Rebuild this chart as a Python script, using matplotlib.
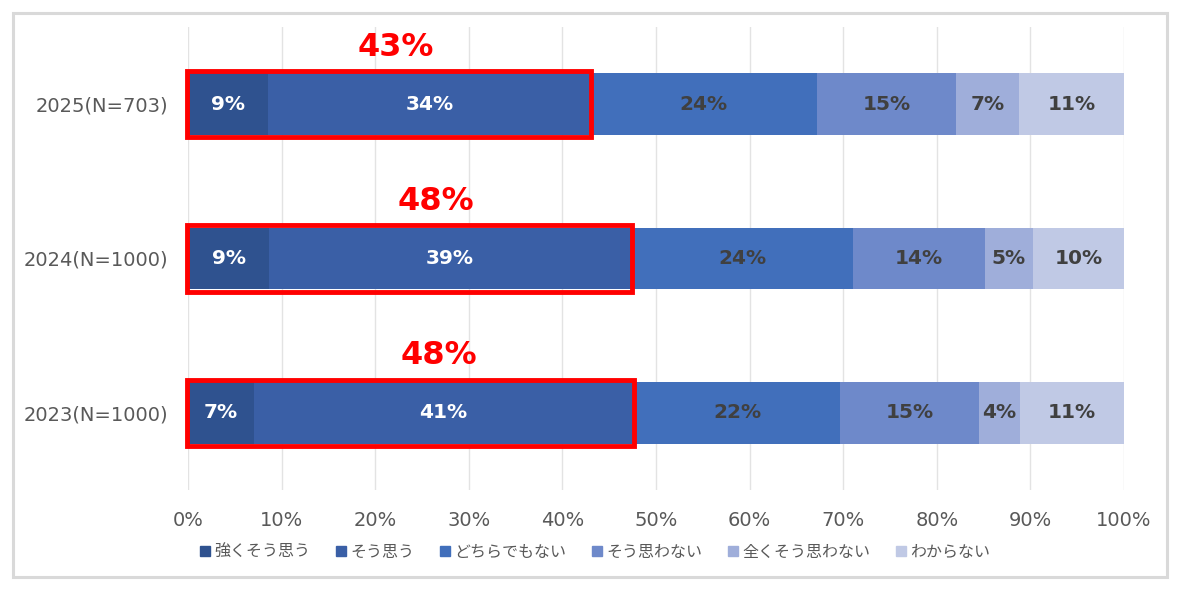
import matplotlib

matplotlib.use("Agg")
import matplotlib.pyplot as plt
from matplotlib.patches import Patch, Rectangle

# data (share in %)
years = ["2025(N=703)", "2024(N=1000)", "2023(N=1000)"]
answers = ["強くそう思う", "そう思う", "どちらでもない", "そう思わない", "全くそう思わない", "わからない"]
strongly_agree = [8.6, 8.7, 7.0]
agree = [34.4, 38.6, 40.6]
neutral = [24.2, 23.8, 22.1]
disagree = [14.9, 14.0, 14.8]
strongly_disagree = [6.7, 5.2, 4.4]
dont_know = [11.2, 9.7, 11.1]
shown_labels = [
    [9, 34, 24, 15, 7, 11],
    [9, 39, 24, 14, 5, 10],
    [7, 41, 22, 15, 4, 11],
]

series = [strongly_agree, agree, neutral, disagree, strongly_disagree, dont_know]
colors = ["#2F528F", "#3A5FA6", "#416FBB", "#6E89CA", "#9FAEDA", "#C0C9E5"]
text_colors = ["white", "white", "#404040", "#404040", "#404040", "#404040"]

plt.rcParams["font.family"] = ["DejaVu Sans", "Noto Sans CJK JP"]

fig = plt.figure(figsize=(11.79, 5.89), dpi=100)
ax = fig.add_axes([188 / 1179, 1 - 490 / 589, (1124 - 188) / 1179, (490 - 27) / 589])

ypos = list(range(len(years)))
bar_h = 0.40
left = [0.0] * len(years)
for k, vals in enumerate(series):
    ax.barh(ypos, vals, left=left, height=bar_h, color=colors[k], zorder=2)
    for i, v in enumerate(vals):
        ax.text(left[i] + v / 2, ypos[i], f"{shown_labels[i][k]}%", ha="center", va="center",
                color=text_colors[k], fontsize=14.5, fontweight="bold", zorder=3)
    left = [a + b for a, b in zip(left, vals)]

# red box around the two "agree" segments + summed label
for i in ypos:
    total = strongly_agree[i] + agree[i]
    ax.add_patch(Rectangle((-0.1, i - 0.215), total + 0.2, 0.43, fill=False,
                           ec="#FF0000", lw=3.5, zorder=4, clip_on=False))
    ax.text(total - 20.8, i - 0.37, f"{shown_labels[i][0] + shown_labels[i][1]}%",
            ha="center", va="center", color="#FF0000", fontsize=23, fontweight="bold")

ax.set_xlim(0, 100)
ax.set_ylim(len(years) - 0.5, -0.5)
ax.set_xticks(range(0, 101, 10))
ax.set_xticklabels([f"{t}%" for t in range(0, 101, 10)])
ax.set_yticks(ypos)
ax.set_yticklabels(years)
ax.tick_params(axis="x", length=0, pad=15, labelsize=14, labelcolor="#595959")
ax.tick_params(axis="y", length=0, pad=14, labelsize=14, labelcolor="#595959")
ax.grid(axis="x", color="#E3E3E3", lw=1, zorder=0)
ax.set_axisbelow(True)
for s in ax.spines.values():
    s.set_visible(False)

handles = [Patch(color=c) for c in colors]
leg = fig.legend(handles, answers, loc="center", bbox_to_anchor=(0.505, 1 - 552 / 589), ncol=6,
                 frameon=False, handlelength=0.6, handleheight=0.6, handletextpad=0.3,
                 columnspacing=1.6, prop={"family": ["Noto Sans CJK JP"], "size": 11.5})
for t in leg.get_texts():
    t.set_color("#595959")

fig.add_artist(Rectangle((13 / 1179, 1 - 577 / 589), (1167 - 13) / 1179, (577 - 13) / 589,
                         transform=fig.transFigure, fill=False, ec="#D9D9D9", lw=2.2))

fig.savefig("out.png", dpi=100)
